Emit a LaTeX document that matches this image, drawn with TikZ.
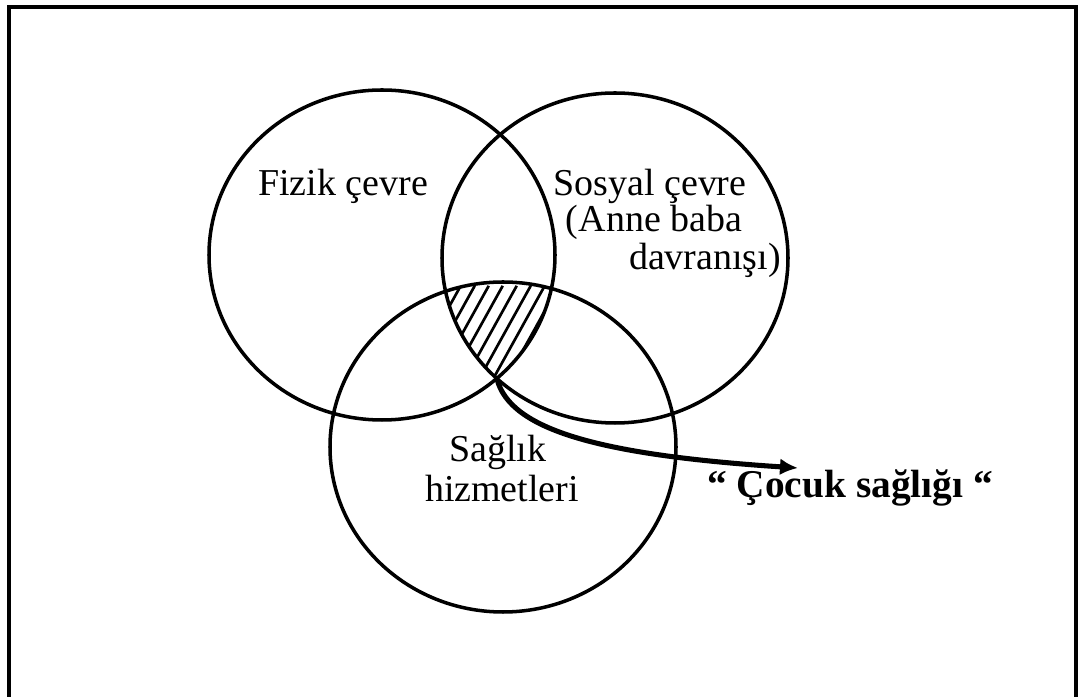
\documentclass[tikz,border=0pt]{standalone}
\usepackage{fontspec}
\setmainfont{Liberation Serif}
\usetikzlibrary{arrows.meta, positioning}

\begin{document}
\begin{tikzpicture}[
    x=0.025cm, y=0.025cm,
    frame/.style={draw=black, line width=2.3pt},
    venn/.style={draw=black, line width=2.5pt},
    hatch/.style={draw=black, line width=1.9pt},
    lbl/.style={anchor=base, inner sep=0pt, font=\fontsize{27}{32}\selectfont},
    pointer/.style={draw=black, line width=3.6pt, -{Latex[length=0.45cm, width=0.42cm]}}
  ]
  \useasboundingbox (0,0) rectangle (1081,697);
  % outer frame, its bottom edge runs off the page
  \draw[frame] (9,-10) -- (9,690) -- (1076,690) -- (1076,-10);

  % circle centres
  \coordinate (cF) at (382,442);
  \coordinate (cS) at (615,439);
  \coordinate (cH) at (503,250);

  % common part of the three, hatched
  \begin{scope}
    \clip (cF) ellipse [x radius=173, y radius=165];
    \clip (cS) ellipse [x radius=173, y radius=165];
    \clip (cH) ellipse [x radius=173, y radius=165];
    \foreach \x in {360,374,...,600} {
      \draw[hatch] (\x,280) -- ++(61:150);
    }
  \end{scope}

  \draw[venn] (cF) ellipse [x radius=173, y radius=165];
  \draw[venn] (cS) ellipse [x radius=173, y radius=165];
  \draw[venn] (cH) ellipse [x radius=173, y radius=165];

  % labels
  \node[lbl] (fizik) at (343,501) {Fizik çevre};
  \node[lbl] (sosyal) at (650,501) {Sosyal çevre};
  \node[lbl] (anne) at (654,465) {(Anne baba};
  \node[lbl] (davranis) at (705,427) {davranışı)};
  \node[lbl] (saglik) at (498,235) {Sağlık};
  \node[lbl] (hizmet) at (502,195) {hizmetleri};

  % arrow out of the hatched part
  \coordinate (kesisim) at (497,318);
  \coordinate (ucu) at (798,229);
  \node[lbl, anchor=base west, font=\fontsize{28}{33}\selectfont\bfseries] (cocuk) at (707,199) {“ Çocuk sağlığı “};
  \draw[pointer] (kesisim) .. controls (510,267) and (600,242) .. (ucu);
\end{tikzpicture}
\end{document}
